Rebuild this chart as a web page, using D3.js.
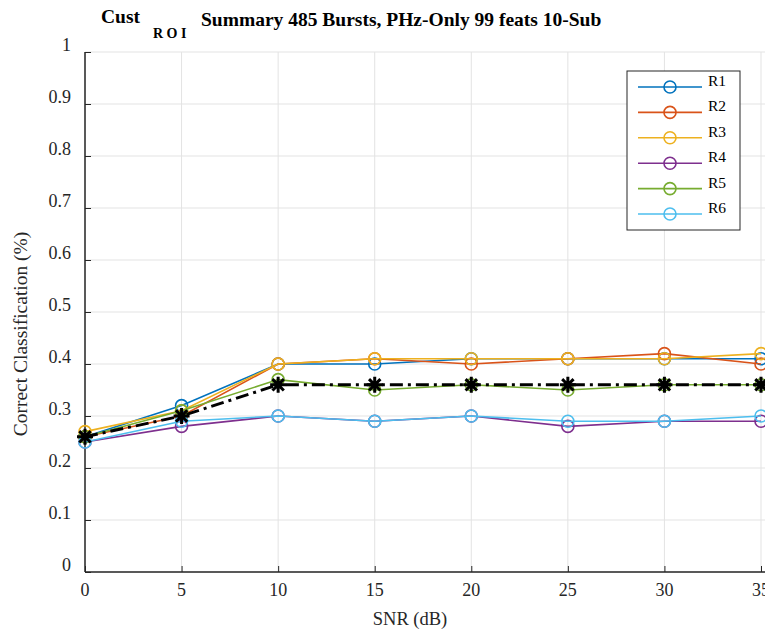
<!DOCTYPE html>
<html>
<head>
<meta charset="utf-8">
<script src="https://cdn.jsdelivr.net/npm/d3@7"></script>
<style>
  body { margin: 0; background: #fff; }
  text { font-family: "Liberation Serif", "DejaVu Serif", serif; }
</style>
</head>
<body>
<script>
var w = 765;
var h = 630;

// data
var snr = [0, 5, 10, 15, 20, 25, 30, 35];
var seriesNames = ["R1", "R2", "R3", "R4", "R5", "R6"];
var r1 = [0.26, 0.32, 0.40, 0.40, 0.41, 0.41, 0.41, 0.41];
var r2 = [0.26, 0.30, 0.40, 0.41, 0.40, 0.41, 0.42, 0.40];
var r3 = [0.27, 0.31, 0.40, 0.41, 0.41, 0.41, 0.41, 0.42];
var r4 = [0.25, 0.28, 0.30, 0.29, 0.30, 0.28, 0.29, 0.29];
var r5 = [0.26, 0.31, 0.37, 0.35, 0.36, 0.35, 0.36, 0.36];
var r6 = [0.25, 0.29, 0.30, 0.29, 0.30, 0.29, 0.29, 0.30];
var meanVals = [0.26, 0.30, 0.36, 0.36, 0.36, 0.36, 0.36, 0.36];
var colors = ["#0072BD", "#D95319", "#EDB120", "#7E2F8E", "#77AC30", "#4DBEEE"];
var xTicks = [0, 5, 10, 15, 20, 25, 30, 35];
var yTicks = [0, 0.1, 0.2, 0.3, 0.4, 0.5, 0.6, 0.7, 0.8, 0.9, 1];

var series = [r1, r2, r3, r4, r5, r6];

var xScale = d3.scaleLinear().domain([0, 35]).range([85, 761]);
var yScale = d3.scaleLinear().domain([0, 1]).range([572, 52]);

var svg = d3.select("body").append("svg")
    .attr("width", w)
    .attr("height", h);

// grid
svg.selectAll("line.gx").data(xTicks).enter().append("line")
    .attr("x1", function(d) { return xScale(d); })
    .attr("x2", function(d) { return xScale(d); })
    .attr("y1", yScale(0)).attr("y2", yScale(1))
    .attr("stroke", "#e3e3e3").attr("stroke-width", 1);
svg.selectAll("line.gy").data(yTicks).enter().append("line")
    .attr("y1", function(d) { return yScale(d); })
    .attr("y2", function(d) { return yScale(d); })
    .attr("x1", xScale(0)).attr("x2", w)
    .attr("stroke", "#e3e3e3").attr("stroke-width", 1);

// axes (ticks pointing inward)
var xAxis = d3.axisTop(xScale).tickValues(xTicks).tickSize(6).tickFormat("");
svg.append("g").attr("transform", "translate(0," + yScale(0) + ")").call(xAxis)
    .call(function(g) { g.select(".domain").remove(); })
    .selectAll("line").attr("stroke", "#262626");
var yAxis = d3.axisRight(yScale).tickValues(yTicks).tickSize(6).tickFormat("");
svg.append("g").attr("transform", "translate(" + xScale(0) + ",0)").call(yAxis)
    .call(function(g) { g.select(".domain").remove(); })
    .selectAll("line").attr("stroke", "#262626");

svg.append("line")
    .attr("x1", xScale(0)).attr("x2", w)
    .attr("y1", yScale(0)).attr("y2", yScale(0))
    .attr("stroke", "#262626").attr("stroke-width", 1.5);
svg.append("line")
    .attr("x1", xScale(0)).attr("x2", xScale(0))
    .attr("y1", yScale(0)).attr("y2", yScale(1))
    .attr("stroke", "#262626").attr("stroke-width", 1.5);

// tick labels
svg.selectAll("text.xt").data(xTicks).enter().append("text")
    .attr("x", function(d) { return xScale(d); })
    .attr("y", 596)
    .attr("text-anchor", "middle")
    .attr("font-size", 18).attr("fill", "#262626")
    .text(function(d) { return d; });
svg.selectAll("text.yt").data(yTicks).enter().append("text")
    .attr("x", 71)
    .attr("y", function(d) { return yScale(d) - 1; })
    .attr("text-anchor", "end")
    .attr("font-size", 18).attr("fill", "#262626")
    .text(function(d) { return d; });

// axis titles
svg.append("text")
    .attr("x", 410).attr("y", 625)
    .attr("text-anchor", "middle")
    .attr("font-size", 18.5).attr("fill", "#262626")
    .text("SNR (dB)");
svg.append("text")
    .attr("transform", "translate(27,334) rotate(-90)")
    .attr("text-anchor", "middle")
    .attr("font-size", 19.5).attr("fill", "#262626")
    .text("Correct Classification (%)");

// title
var title = svg.append("text")
    .attr("font-weight", "bold").attr("font-size", 19.5).attr("fill", "#000");
title.append("tspan").attr("x", 101).attr("y", 23).text("Cust");
title.append("tspan").attr("x", 153).attr("y", 38).attr("font-size", 14).text("R O I");
title.append("tspan").attr("x", 201).attr("y", 26).text("Summary 485 Bursts, PHz-Only 99 feats 10-Sub");

var line = d3.line()
    .x(function(d, i) { return xScale(snr[i]); })
    .y(function(d) { return yScale(d); });

series.forEach(function(s, k) {
    svg.append("path")
        .attr("d", line(s))
        .attr("fill", "none")
        .attr("stroke", colors[k])
        .attr("stroke-width", 1.6);
    svg.selectAll("circle.s" + k).data(s).enter().append("circle")
        .attr("cx", function(d, i) { return xScale(snr[i]); })
        .attr("cy", function(d) { return yScale(d); })
        .attr("r", 6)
        .attr("fill", "none")
        .attr("stroke", colors[k])
        .attr("stroke-width", 1.6);
});

// mean line, dash-dot with asterisks
svg.append("path")
    .attr("d", line(meanVals))
    .attr("fill", "none")
    .attr("stroke", "#000")
    .attr("stroke-width", 3)
    .attr("stroke-dasharray", "13,5,3,5");

var star = "M-8,0L8,0M0,-8L0,8M-5.7,-5.7L5.7,5.7M-5.7,5.7L5.7,-5.7";
svg.selectAll("path.star").data(meanVals).enter().append("path")
    .attr("transform", function(d, i) { return "translate(" + xScale(snr[i]) + "," + yScale(d) + ")"; })
    .attr("d", star)
    .attr("stroke", "#000")
    .attr("stroke-width", 3);

// legend
var lg = svg.append("g");
lg.append("rect")
    .attr("x", 627).attr("y", 71)
    .attr("width", 113).attr("height", 159)
    .attr("fill", "#fff").attr("stroke", "#262626").attr("stroke-width", 1);
seriesNames.forEach(function(name, k) {
    var yy = 87 + k * 25.4;
    lg.append("line")
        .attr("x1", 638).attr("x2", 702)
        .attr("y1", yy).attr("y2", yy)
        .attr("stroke", colors[k]).attr("stroke-width", 1.6);
    lg.append("circle")
        .attr("cx", 670).attr("cy", yy).attr("r", 6)
        .attr("fill", "none").attr("stroke", colors[k]).attr("stroke-width", 1.6);
    lg.append("text")
        .attr("x", 708).attr("y", yy - 1)
        .attr("font-size", 15.5).attr("fill", "#000")
        .text(name);
});
</script>
</body>
</html>
